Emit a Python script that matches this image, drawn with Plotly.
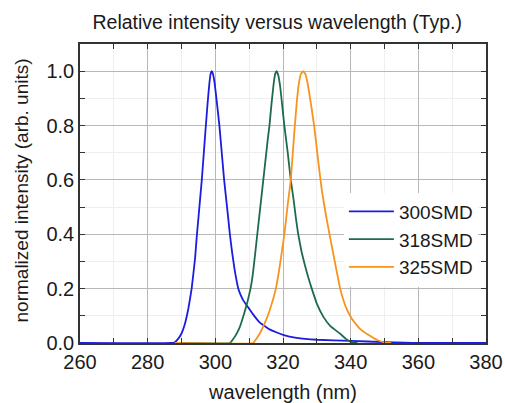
import plotly.graph_objects as go

# ---- data ----
wl_300 = [260, 287, 288, 289, 290, 291, 292, 293, 294, 294.5, 295, 295.5, 296, 296.6, 297.2,
          297.7, 298.2, 298.6, 298.9, 299.3, 299.8, 300.5, 301.2, 301.9, 302.6, 303.2, 303.8,
          304.3, 305, 305.7, 306.8, 307.5, 308.3, 309.6, 311, 313, 316,
          320, 324, 330, 340, 350, 356, 360, 380]
int_300 = [0, 0, 0.003, 0.015, 0.035, 0.07, 0.125, 0.2, 0.31, 0.39, 0.46, 0.53, 0.6, 0.7, 0.8,
           0.88, 0.95, 0.99, 1.0, 0.99, 0.955, 0.88, 0.8, 0.7, 0.6, 0.53, 0.46,
           0.4, 0.33, 0.27, 0.2, 0.176, 0.156, 0.133, 0.108, 0.077, 0.05,
           0.03, 0.019, 0.012, 0.008, 0.003, 0.001, 0, 0]

wl_318 = [290, 304.3, 305, 306, 307, 307.6, 308.5, 309.5, 310.4, 311, 311.7, 312.4, 313.2,
          314, 314.8, 315.5, 316, 316.6, 317.2, 317.7, 318.1, 318.6, 319.2, 319.8, 320.4,
          321.4, 322.3, 323.1, 323.8, 324.5, 325.5, 326.5, 327.5, 328.5, 330, 331.9,
          334, 336.9, 338.5, 340, 342]
int_318 = [0, 0, 0.01, 0.028, 0.052, 0.072, 0.108, 0.152, 0.2, 0.245, 0.32, 0.4, 0.49,
           0.58, 0.67, 0.75, 0.8, 0.88, 0.95, 0.99, 1.0, 0.985, 0.94, 0.87, 0.8,
           0.7, 0.6, 0.53, 0.46, 0.4, 0.335, 0.285, 0.24, 0.2, 0.145, 0.097,
           0.062, 0.034, 0.016, 0.004, 0]

wl_325 = [288, 311.2, 312, 313, 314.5, 316, 317.9, 319, 320.4, 321.5, 322.3, 322.9, 323.5,
          324.1, 324.7, 325.3, 326, 326.6, 327.2, 328, 329.2, 330.4, 331.5,
          332.7, 333.9, 335.3, 336.9, 338.5, 340.3, 342.5, 345.2, 348, 350.5, 352]
int_325 = [0, 0, 0.013, 0.032, 0.07, 0.118, 0.2, 0.28, 0.4, 0.52, 0.6, 0.7, 0.8,
           0.89, 0.955, 0.99, 1.0, 0.99, 0.96, 0.9, 0.8, 0.67, 0.56,
           0.47, 0.39, 0.3, 0.2, 0.135, 0.09, 0.055, 0.03, 0.01, 0.001, 0]

series_names = ["300SMD", "318SMD", "325SMD"]
series_colors = ["#1c1ce0", "#1d6b4c", "#f7941d"]

x_ticks = [260, 280, 300, 320, 340, 360, 380]
y_ticks = [0.0, 0.2, 0.4, 0.6, 0.8, 1.0]
y_ticklabels = ["0.0", "0.2", "0.4", "0.6", "0.8", "1.0"]

FONT = "Liberation Sans, Arial, sans-serif"

fig = go.Figure()
for xs, ys, name, col in zip([wl_300, wl_318, wl_325], [int_300, int_318, int_325],
                             series_names, series_colors):
    fig.add_trace(go.Scatter(x=xs, y=ys, mode="lines", name=name,
                             line=dict(color=col, width=1.8, shape="spline", smoothing=0.3)))

axis_common = dict(
    showline=True, linecolor="#333333", linewidth=1.5, mirror="allticks",
    ticks="inside", ticklen=5, tickcolor="#333333", tickwidth=1,
    showgrid=True, gridcolor="#b8b8b8", gridwidth=1, zeroline=False,
    tickfont=dict(family=FONT, size=20, color="#1a1a1a"),
    automargin=False,
)

fig.update_xaxes(range=[260, 380], tickvals=x_ticks, title=dict(text="wavelength (nm)",
                 font=dict(family=FONT, size=20, color="#1a1a1a"), standoff=14),
                 minor=dict(dtick=10, tick0=260, ticks="inside", ticklen=5, tickcolor="#333333",
                            showgrid=True, gridcolor="#efefef"),
                 **axis_common)
fig.update_yaxes(range=[0, 1.1], tickvals=y_ticks, ticktext=y_ticklabels,
                 minor=dict(dtick=0.1, tick0=0, ticks="inside", ticklen=5, tickcolor="#333333",
                            showgrid=True, gridcolor="#efefef"),
                 **axis_common)

fig.add_annotation(text="normalized intensity (arb. units)", xref="paper", yref="paper",
                   x=-0.143, y=0.51, xanchor="center", yanchor="middle", textangle=-90,
                   showarrow=False, font=dict(family=FONT, size=19, color="#1a1a1a"))

fig.update_layout(
    width=505, height=403,
    margin=dict(l=80, r=19, t=44, b=60),
    paper_bgcolor="white", plot_bgcolor="white",
    title=dict(text="Relative intensity versus wavelength (Typ.)",
               font=dict(family=FONT, size=19.5, color="#1a1a1a"),
               x=0.549, xanchor="center", y=0.945, yanchor="middle"),
    legend=dict(x=0.65, y=0.503, xanchor="left", yanchor="top",
                bgcolor="white", borderwidth=0, itemwidth=45,
                font=dict(family=FONT, size=19, color="#1a1a1a"),
                tracegroupgap=0),
    showlegend=True,
)

fig.write_html("out.html", config={"displayModeBar": False},
               post_script="document.body.style.margin='0';document.body.style.overflow='hidden';")
